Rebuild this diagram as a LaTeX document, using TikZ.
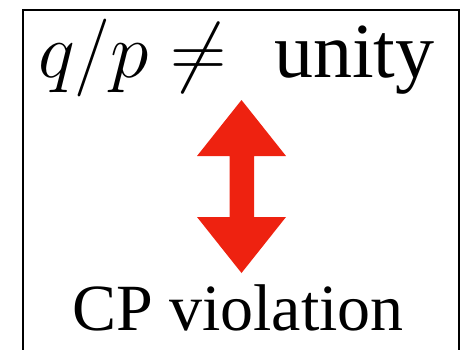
\documentclass[tikz,border=0pt]{standalone}
\usepackage{fix-cm}
\usepackage{fontspec}
\setmainfont{Liberation Serif}
\definecolor{arrowred}{RGB}{238,34,16}
\tikzset{
  frame/.style={draw=black, line width=2pt},
  toptext/.style={inner sep=0pt, font=\fontsize{78}{88}\selectfont},
  bottomtext/.style={inner sep=0pt, font=\fontsize{66}{80}\selectfont},
  redarrow/.style={fill=arrowred, draw=none}
}
\begin{document}
\begin{tikzpicture}[x=1pt,y=1pt]
\useasboundingbox (0,0) rectangle (465,-349);
\draw[frame] (23,-9.5) -- (458.5,-9.5) -- (458.5,-360) -- (23,-360) -- cycle;
\node[toptext, anchor=base west] (top) at (38,-77) {$q/p\neq$\hspace{28pt} unity};
\node[bottomtext, anchor=base] (bottom) at (238,-330) {CP violation};
\fill[redarrow] (241.5,-100) -- (286,-156) -- (254,-156) -- (254,-217) -- (286,-217)
  -- (241.5,-273) -- (197,-217) -- (229.5,-217) -- (229.5,-156) -- (197,-156) -- cycle;
\end{tikzpicture}
\end{document}
